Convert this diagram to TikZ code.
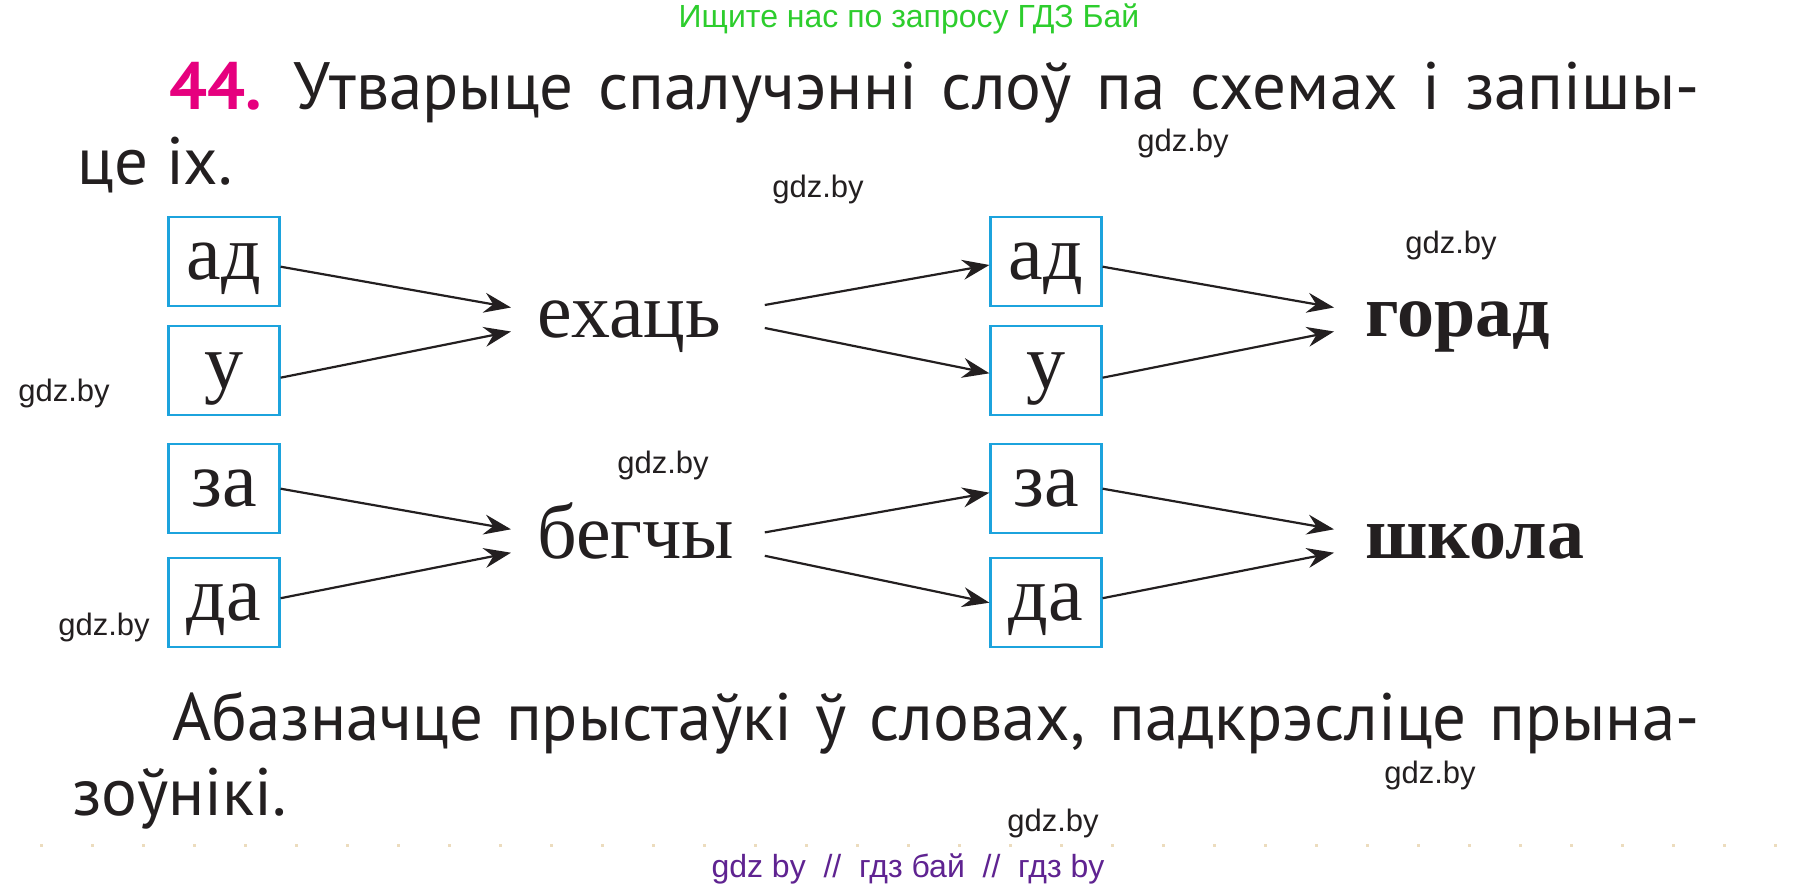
\documentclass[tikz,border=0pt]{standalone}
\usepackage{fontspec}
\setmainfont{Liberation Serif}
\newfontfamily\bodysans{PT Sans}
\newfontfamily\lsans{Liberation Sans}
\usetikzlibrary{arrows.meta,calc}
\definecolor{boxblue}{RGB}{28,163,221}
\definecolor{ink}{RGB}{35,31,32}
\definecolor{pinkno}{RGB}{230,0,126}
\definecolor{wmgreen}{RGB}{45,205,45}
\definecolor{footpurple}{RGB}{95,35,145}
\definecolor{beigedot}{RGB}{236,220,190}
\begin{document}
\begin{tikzpicture}[x=0.5pt,y=-0.5pt,
  prefbox/.style={draw=boxblue,line width=1.1pt,minimum width=55.5pt,minimum height=44.5pt,inner sep=0pt,text height=18pt,text depth=0pt,font=\fontsize{39}{42}\selectfont,text=ink},
  word/.style={inner ysep=0pt,inner xsep=13pt,anchor=west,text width=100.5pt,align=left,text height=17.5pt,text depth=0pt,font=\fontsize{39}{42}\selectfont,text=ink},
  bword/.style={inner ysep=0pt,anchor=west,inner xsep=15.5pt,text height=17pt,text depth=0pt,font=\fontsize{37}{40}\selectfont\bfseries,text=ink},
  arr/.style={draw=ink,line width=1.1pt,-{Stealth[length=13.5pt,width=10pt,inset=4.5pt]}},
  body/.style={inner sep=0pt,anchor=base west,font=\bodysans\fontsize{33.5}{40}\selectfont,text=ink},
  wm/.style={inner sep=0pt,font=\lsans\fontsize{15.5}{18}\selectfont,text=ink},
  banner/.style={inner sep=0pt,font=\lsans\fontsize{16}{18}\selectfont},
]
\fill[white] (0,0) rectangle (1818,887);
\useasboundingbox (0,0) rectangle (1818,887);

% header and footer
\node[banner,text=wmgreen] (hdr) at (909,19) {Ищите нас по запросу ГДЗ Бай};
\draw[beigedot,line width=1.5pt,dash pattern=on 1.5pt off 24pt] (40,845) -- (1800,845);
\node[banner,text=footpurple] (ftr) at (908,869) {gdz by\ \ //\ \ гдз бай\ \ //\ \ гдз by};

% task text
\node[body,text=pinkno,font=\bodysans\bfseries\fontsize{33.5}{40}\selectfont] (num) at (169,110) {44.};
\node[body] (t1) at (293,110) {\makebox[703pt][s]{Утварыце спалучэнні слоў па схемах і запішы-}};
\node[body] (t2) at (77,185) {це іх.};
\node[body] (b1) at (172,740) {\makebox[763.5pt][s]{Абазначце прыстаўкі ў словах, падкрэсліце прына-}};
\node[body] (b2) at (72,815) {зоўнікі.};

% watermarks
\node[wm] (wm1) at (1183,143) {gdz.by};
\node[wm] (wm2) at (818,189) {gdz.by};
\node[wm] (wm3) at (1451,245) {gdz.by};
\node[wm] (wm4) at (64,393) {gdz.by};
\node[wm] (wm5) at (663,465) {gdz.by};
\node[wm] (wm6) at (104,627) {gdz.by};
\node[wm] (wm7) at (1430,775) {gdz.by};
\node[wm] (wm8) at (1053,823) {gdz.by};

% boxes
\node[prefbox] (a1) at (224,261.5) {ад};
\node[prefbox] (u1) at (224,370.3) {у};
\node[prefbox] (z1) at (224,488.2) {за};
\node[prefbox] (d1) at (224,602.2) {да};
\node[prefbox] (a2) at (1046,261.5) {ад};
\node[prefbox] (u2) at (1046,370.3) {у};
\node[prefbox] (z2) at (1046,488.2) {за};
\node[prefbox] (d2) at (1046,602.2) {да};

% words
\node[word] (w1) at (511,319.5) {ехаць};
\node[word] (w2) at (511,541) {бегчы};
\node[bword] (g1) at (1334,319.5) {горад};
\node[bword] (g2) at (1334,541) {школа};

% arrows
\draw[arr] ([yshift=-2.6pt]a1.east) -- ([yshift=6pt]w1.west);
\draw[arr] ([yshift=-3.7pt]u1.east) -- ([yshift=-6pt]w1.west);
\draw[arr] ([yshift=-0.25pt]z1.east) -- ([yshift=5.85pt]w2.west);
\draw[arr] ([yshift=2pt]d1.east) -- ([yshift=-5.85pt]w2.west);
\draw[arr] ([yshift=7.25pt]w1.east) -- ([yshift=-1.75pt]a2.west);
\draw[arr] ([yshift=-4.25pt]w1.east) -- ([yshift=-1.5pt]u2.west);
\draw[arr] ([yshift=4.3pt]w2.east) -- ([yshift=-2.25pt]z2.west);
\draw[arr] ([yshift=-7.4pt]w2.east) -- ([yshift=-0.25pt]d2.west);
\draw[arr] ([yshift=-2.6pt]a2.east) -- ([yshift=6pt]g1.west);
\draw[arr] ([yshift=-3.7pt]u2.east) -- ([yshift=-6pt]g1.west);
\draw[arr] ([yshift=-0.25pt]z2.east) -- ([yshift=5.85pt]g2.west);
\draw[arr] ([yshift=2pt]d2.east) -- ([yshift=-5.85pt]g2.west);
\end{tikzpicture}
\end{document}
